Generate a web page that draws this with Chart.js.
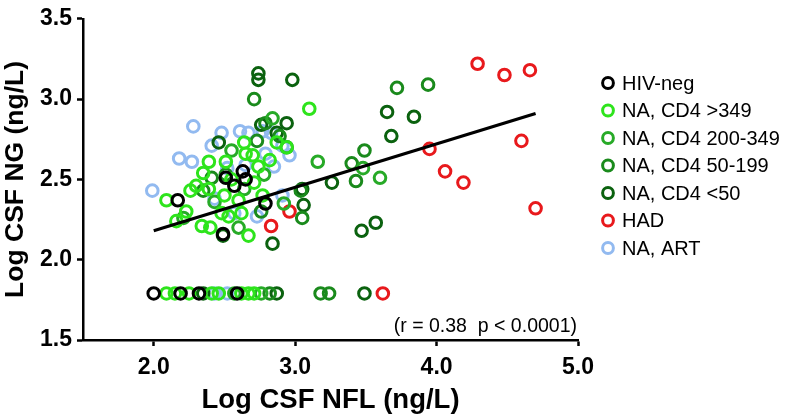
<!DOCTYPE html>
<html>
<head>
<meta charset="utf-8">
<script src="https://cdn.jsdelivr.net/npm/chart.js@4/dist/chart.umd.min.js"></script>
<style>
    html, body { margin: 0; padding: 0; background: #fff; }
    #wrap { position: relative; width: 788px; height: 420px; }
</style>
</head>
<body>
<div id="wrap"><canvas id="grafico" width="788" height="420"></canvas></div>
<script>
// Series (log CSF NFL on x, log CSF NG on y)
const seriesNames = ['HIV-neg', 'NA, CD4 >349', 'NA, CD4 200-349', 'NA, CD4 50-199', 'NA, CD4 <50', 'HAD', 'NA, ART'];

const hivNegX = [2.17, 2.51, 2.63, 2.57, 2.65, 2.79, 2.49, 2.00, 2.19, 2.32, 2.59];
const hivNegY = [2.37, 2.51, 2.55, 2.46, 2.50, 2.35, 2.16, 1.79, 1.79, 1.79, 1.79];

const cd4HighX = [3.10, 2.64, 2.65, 2.87, 2.94, 2.74, 2.51, 2.39, 2.09, 2.26, 2.30, 2.39, 2.23, 2.16, 2.34, 2.40, 2.48, 2.67,
    2.53, 2.62, 2.77, 2.55, 2.71, 2.60, 2.50, 2.35, 2.70, 2.82, 2.09, 2.15, 2.25, 2.41, 2.46, 2.62, 2.67, 2.71];
const cd4HighY = [2.94, 2.73, 2.66, 2.73, 2.70, 2.58, 2.61, 2.61, 2.37, 2.43, 2.46, 2.44, 2.30, 2.24, 2.21, 2.20, 2.29, 2.15,
    2.27, 2.29, 2.40, 2.50, 2.48, 2.37, 2.40, 2.54, 2.65, 2.62, 1.79, 1.79, 1.79, 1.79, 1.79, 1.79, 1.79, 1.79];

const cd4MidX = [2.84, 3.16, 3.60, 3.48, 2.43, 2.64, 2.55, 2.78, 2.21, 2.60, 2.92, 2.57, 2.76];
const cd4MidY = [2.88, 2.61, 2.51, 2.57, 2.36, 2.44, 2.68, 2.53, 2.26, 2.20, 2.35, 1.79, 1.79];

const cd4LowX = [2.71, 2.79, 2.73, 2.89, 2.94, 3.72, 3.94, 3.49, 3.40, 3.43, 3.05, 3.04, 2.76, 2.35, 2.41, 2.51, 2.82, 3.18, 3.24];
const cd4LowY = [3.00, 2.85, 2.74, 2.77, 2.70, 3.07, 3.09, 2.68, 2.60, 2.49, 2.26, 2.43, 2.30, 2.43, 2.51, 2.53, 1.79, 1.79, 1.79];

const cd4VeryLowX = [2.74, 2.74, 2.98, 2.76, 2.94, 2.87, 2.46, 3.65, 3.84, 3.68, 3.05, 3.26, 3.06, 3.47, 3.57, 2.84, 2.49, 2.35, 2.87, 3.49];
const cd4VeryLowY = [3.16, 3.12, 3.12, 2.84, 2.85, 2.79, 2.73, 2.92, 2.89, 2.77, 2.44, 2.48, 2.34, 2.18, 2.23, 2.10, 2.15, 1.79, 1.79, 1.79];

const hadX = [4.29, 4.48, 4.66, 4.60, 3.95, 4.06, 4.19, 4.70, 2.96, 2.83, 3.62];
const hadY = [3.22, 3.15, 3.18, 2.74, 2.69, 2.55, 2.48, 2.32, 2.30, 2.21, 1.79];

const artX = [2.28, 2.48, 2.61, 2.67, 2.77, 2.83, 2.41, 2.18, 2.27, 2.79, 2.96, 2.91, 1.99, 2.52, 2.73, 2.91, 2.65, 2.85, 2.43, 2.57, 2.43, 2.52];
const artY = [2.83, 2.79, 2.80, 2.79, 2.80, 2.79, 2.71, 2.63, 2.61, 2.66, 2.65, 2.71, 2.43, 2.57, 2.27, 2.40, 2.59, 2.58, 2.38, 2.29, 1.79, 1.79];

// regression line end points
const regX = [2.0, 4.7];
const regY = [2.18, 2.91];

const xTicks = [2.0, 3.0, 4.0, 5.0];
const yTicks = [1.5, 2.0, 2.5, 3.0, 3.5];
const statsText = '(r = 0.38  p < 0.0001)';

const seriesX = [hivNegX, cd4HighX, cd4MidX, cd4LowX, cd4VeryLowX, hadX, artX];
const seriesY = [hivNegY, cd4HighY, cd4MidY, cd4LowY, cd4VeryLowY, hadY, artY];
const seriesColors = ['#000000', '#2ee41c', '#27aa27', '#1a8a1c', '#0b620f', '#e8191c', '#92baf0'];

const FONT = "'Liberation Sans', Arial, sans-serif";

function toPoints(xs, ys) {
    return xs.map((x, i) => ({ x: x, y: ys[i] }));
}

// legend + stats text drawn on the canvas
const extrasPlugin = {
    id: 'extras',
    afterDraw(chart) {
        const ctx = chart.ctx;
        const area = chart.chartArea;
        ctx.save();
        ctx.textBaseline = 'middle';

        ctx.font = '19.5px ' + FONT;
        ctx.fillStyle = '#000';
        ctx.textAlign = 'right';
        ctx.fillText(statsText, area.right - 1, 327);

        ctx.font = '20px ' + FONT;
        ctx.textAlign = 'left';
        seriesNames.forEach((name, i) => {
            const y = 83 + i * 27.5;
            ctx.beginPath();
            ctx.arc(608, y, 5.4, 0, Math.PI * 2);
            ctx.lineWidth = 3;
            ctx.strokeStyle = seriesColors[i];
            ctx.stroke();
            ctx.fillStyle = '#000';
            ctx.fillText(name, 622, y + 1);
        });
        ctx.restore();
    }
};

function buildChart() {
    const ctx = document.getElementById('grafico');

    const datasets = seriesNames.map((name, i) => ({
        label: name,
        data: toPoints(seriesX[i], seriesY[i]),
        borderColor: seriesColors[i],
        backgroundColor: 'rgba(0,0,0,0)',
        pointRadius: 5.8,
        pointBorderWidth: 3,
        pointStyle: 'circle',
        showLine: false
    }));

    datasets.push({
        label: 'fit',
        data: toPoints(regX, regY),
        type: 'line',
        borderColor: '#000',
        borderWidth: 3.2,
        pointRadius: 0,
        fill: false,
        order: -1
    });

    new Chart(ctx, {
        type: 'scatter',
        data: { datasets: datasets },
        options: {
            responsive: false,
            animation: false,
            layout: { padding: { top: 10, right: 210, left: 0, bottom: 0 } },
            plugins: {
                legend: { display: false },
                tooltip: { enabled: false }
            },
            scales: {
                x: {
                    type: 'linear',
                    min: 1.5,
                    max: 5.0,
                    afterBuildTicks: (scale) => { scale.ticks = xTicks.map(v => ({ value: v })); },
                    afterFit: (scale) => { scale.height = 80; },
                    border: { color: '#000', width: 2.5 },
                    grid: { drawOnChartArea: false, drawTicks: true, tickLength: 6, tickWidth: 2.5, color: '#000' },
                    ticks: {
                        color: '#000',
                        padding: 8,
                        font: { family: FONT, size: 23, weight: 'bold' },
                        callback: (v) => v.toFixed(1)
                    },
                    title: {
                        display: true,
                        text: 'Log CSF NFL (ng/L)',
                        color: '#000',
                        padding: { top: 0, bottom: 3 },
                        font: { family: FONT, size: 27.5, weight: 'bold' }
                    }
                },
                y: {
                    type: 'linear',
                    min: 1.5,
                    max: 3.5,
                    afterBuildTicks: (scale) => { scale.ticks = yTicks.map(v => ({ value: v })); },
                    afterFit: (scale) => { scale.width = 83; },
                    border: { color: '#000', width: 2.5 },
                    grid: { drawOnChartArea: false, drawTicks: true, tickLength: 6, tickWidth: 2.5, color: '#000' },
                    ticks: {
                        color: '#000',
                        padding: 5,
                        font: { family: FONT, size: 23, weight: 'bold' },
                        callback: (v) => v.toFixed(1)
                    },
                    title: {
                        display: true,
                        text: 'Log CSF NG (ng/L)',
                        color: '#000',
                        padding: { top: 0, bottom: 0 },
                        font: { family: FONT, size: 26.5, weight: 'bold' }
                    }
                }
            }
        },
        plugins: [extrasPlugin]
    });
}

document.addEventListener('DOMContentLoaded', buildChart);
</script>
</body>
</html>
